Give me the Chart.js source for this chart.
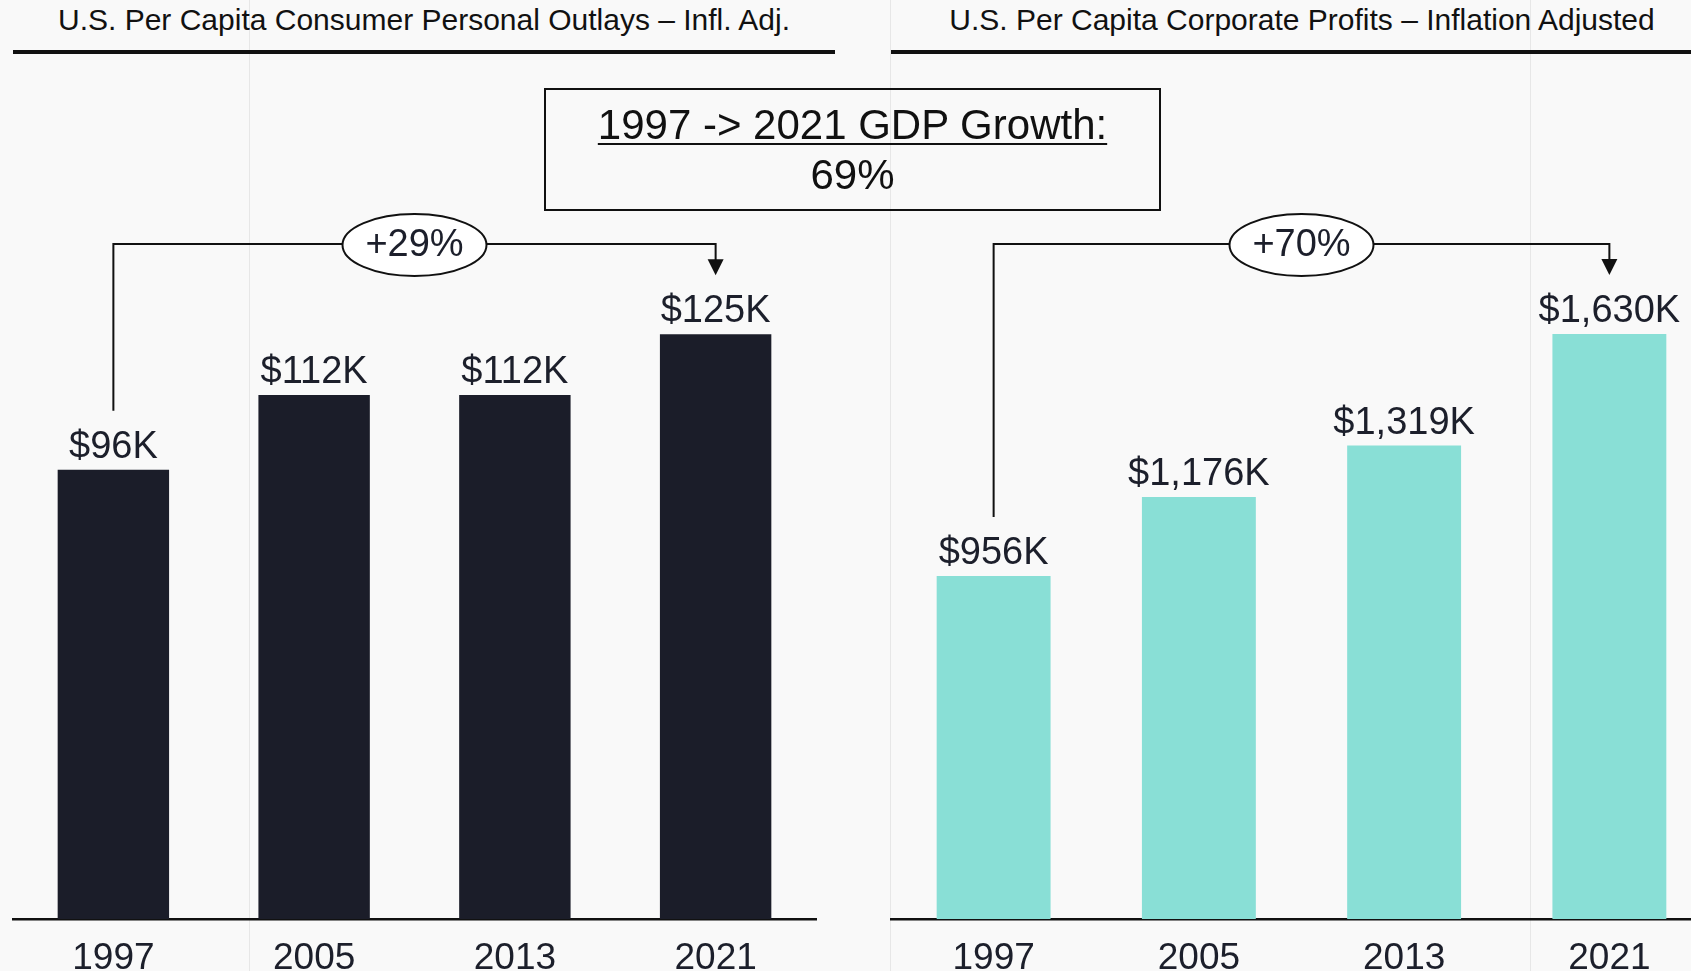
<!DOCTYPE html>
<html>
<head>
<meta charset="utf-8">
<script src="https://cdn.jsdelivr.net/npm/chart.js@4.4.1/dist/chart.umd.min.js"></script>
<style>
  html, body { margin: 0; padding: 0; }
  body {
    width: 1691px; height: 971px; overflow: hidden; position: relative;
    background: #f9f9f9; color: #111;
    font-family: "Liberation Sans", Arial, sans-serif;
  }
  .guide { position: absolute; top: 0; width: 1px; height: 971px; background: #e7e7e7; }
  .title {
    position: absolute; top: 0; width: 822px; height: 42px;
    padding-bottom: 8px; line-height: 40px; font-size: 30px; text-align: center;
    border-bottom: 4px solid #111; white-space: nowrap;
  }
  canvas { position: absolute; top: 0; }
  .gdp {
    position: absolute; left: 544px; top: 88px; width: 617px; height: 123px;
    box-sizing: border-box; border: 2px solid #111; padding-top: 10px;
    text-align: center; font-size: 42px; line-height: 50px; color: #111;
  }
  .gdp u { text-decoration-thickness: 1.5px; text-underline-offset: 4px; }
</style>
</head>
<body>
<div class="guide" style="left:249px"></div>
<div class="guide" style="left:890px"></div>
<div class="guide" style="left:1530px"></div>

<div class="title" style="left:13px">U.S. Per Capita Consumer Personal Outlays – Infl. Adj.</div>
<div class="title" style="left:891px">U.S. Per Capita Corporate Profits – Inflation Adjusted</div>

<canvas id="outlays" width="850" height="971" style="left:0"></canvas>
<canvas id="profits" width="880" height="971" style="left:850px"></canvas>

<div class="gdp"><u>1997 -&gt; 2021 GDP Growth:</u><br>69%</div>

<script>
const years = ['1997', '2005', '2013', '2021'];
const outlays = [96, 112, 112, 125];      // $K per capita
const profits = [956, 1176, 1319, 1630];  // $K per capita
const outlaysGrowth = '+29%';
const profitsGrowth = '+70%';

const FONT = '"Liberation Sans", Arial, sans-serif';
const INK = '#1c1f2b';

// value text above each bar
const barLabels = {
    id: 'barLabels',
    afterDatasetsDraw(chart, args, opts) {
        const ctx = chart.ctx;
        const values = chart.data.datasets[0].data;
        ctx.save();
        ctx.font = `38px ${FONT}`;
        ctx.fillStyle = INK;
        ctx.textAlign = 'center';
        ctx.textBaseline = 'alphabetic';
        chart.getDatasetMeta(0).data.forEach((bar, i) => {
            ctx.fillText(opts.format(values[i]), bar.x, bar.y - 12);
        });
        ctx.restore();
    }
};

// elbow connector from the first bar to the last one, with the growth oval
const growthBracket = {
    id: 'growthBracket',
    afterDatasetsDraw(chart, args, opts) {
        const ctx = chart.ctx;
        const bars = chart.getDatasetMeta(0).data;
        const first = bars[0];
        const last = bars[bars.length - 1];
        const lineY = chart.chartArea.top - 20;
        const tipY = last.y - 59;
        const midX = (first.x + last.x) / 2;

        ctx.save();
        ctx.strokeStyle = '#111';
        ctx.lineWidth = 2;
        ctx.beginPath();
        ctx.moveTo(first.x, first.y - 59);
        ctx.lineTo(first.x, lineY);
        ctx.lineTo(last.x, lineY);
        ctx.lineTo(last.x, tipY - 14);
        ctx.stroke();

        ctx.fillStyle = '#111';
        ctx.beginPath();
        ctx.moveTo(last.x - 8, tipY - 16);
        ctx.lineTo(last.x + 8, tipY - 16);
        ctx.lineTo(last.x, tipY);
        ctx.closePath();
        ctx.fill();

        ctx.beginPath();
        ctx.ellipse(midX, lineY + 1, 72, 31, 0, 0, Math.PI * 2);
        ctx.fillStyle = '#fff';
        ctx.fill();
        ctx.stroke();

        ctx.font = `38px ${FONT}`;
        ctx.fillStyle = INK;
        ctx.textAlign = 'center';
        ctx.textBaseline = 'middle';
        ctx.fillText(opts.text, midX, lineY + 2);
        ctx.restore();
    }
};

function barChart(id, values, color, yMax, padLeft, padRight, format, growth) {
    return new Chart(document.getElementById(id), {
        type: 'bar',
        data: {
            labels: years,
            datasets: [{
                data: values,
                backgroundColor: color,
                categoryPercentage: 0.555,
                barPercentage: 1
            }]
        },
        options: {
            responsive: false,
            animation: false,
            layout: { padding: { left: padLeft, right: padRight, top: 264, bottom: 0 } },
            plugins: {
                legend: { display: false },
                tooltip: { enabled: false },
                barLabels: { format },
                growthBracket: { text: growth }
            },
            scales: {
                x: {
                    grid: { display: false },
                    border: { display: true, color: '#111', width: 2.5 },
                    ticks: { color: INK, font: { family: FONT, size: 37 }, padding: 10 },
                    afterFit(scale) { scale.height = 52; }
                },
                y: { display: false, min: 0, max: yMax }
            }
        },
        plugins: [barLabels, growthBracket]
    });
}

barChart('outlays', outlays, '#1b1d29', 140, 13, 34, v => `$${v}K`, outlaysGrowth);
barChart('profits', profits, '#89dfd6', 1825, 41, 18, v => `$${v.toLocaleString('en-US')}K`, profitsGrowth);
</script>
</body>
</html>
